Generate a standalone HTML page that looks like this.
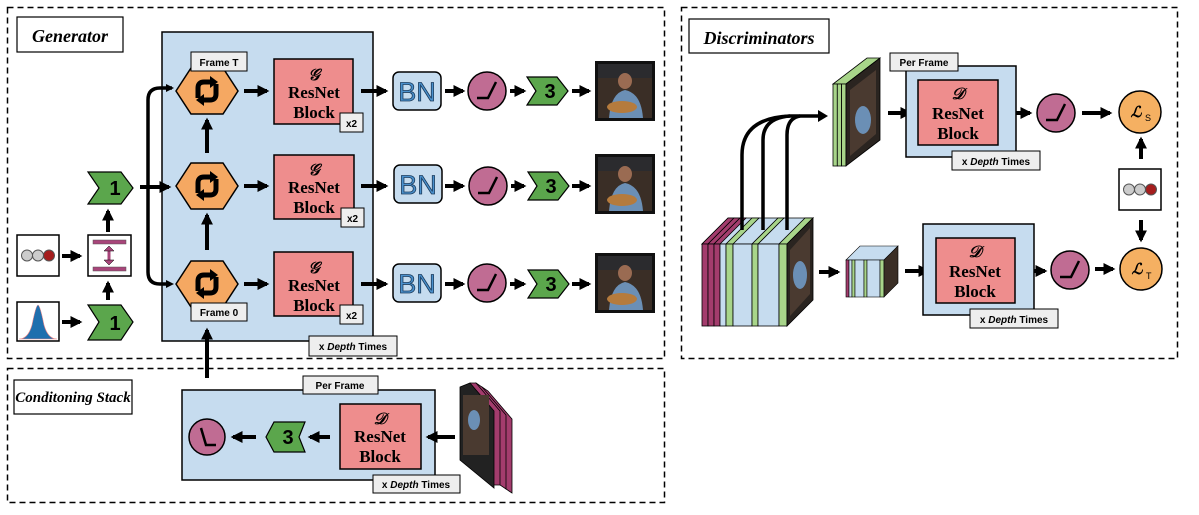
<!DOCTYPE html>
<html><head><meta charset="utf-8"><style>
html,body{margin:0;padding:0;background:#fff;width:1199px;height:515px;overflow:hidden}
svg{display:block}
text{font-family:"Liberation Sans",sans-serif}
.t{font-size:10px;font-weight:bold}
.rb{font-family:"Liberation Serif",serif;font-weight:bold;font-size:17px}
.cal{font-family:"Liberation Serif",serif;font-style:italic;font-weight:bold;font-size:16px}
.ttl{font-family:"Liberation Serif",serif;font-style:italic;font-weight:bold;font-size:18px}
</style></head><body>
<svg width="1199" height="515" viewBox="0 0 1199 515" xmlns="http://www.w3.org/2000/svg">
<defs>
<marker id="ah" viewBox="0 0 10 10" refX="8" refY="5" markerWidth="3" markerHeight="3" orient="auto"><path d="M0,0 L10,5 L0,10 z" fill="#000"/></marker>
<g id="photo">
<rect x="0" y="0" width="60" height="60" fill="#111"/>
<rect x="3" y="3" width="54" height="54" fill="#3a2e26"/>
<rect x="3" y="3" width="54" height="14" fill="#2b2b2e"/>
<ellipse cx="30" cy="20" rx="7" ry="8" fill="#9a6b52"/>
<path d="M14,57 Q16,32 30,29 Q46,32 48,57 z" fill="#6b8fb5"/>
<ellipse cx="27" cy="46" rx="15" ry="6" fill="#b57b3d"/>
</g>
<g id="hex"><polygon points="-31,0 -16,-23 16,-23 31,0 16,23 -16,23" fill="#f5a862" stroke="#000" stroke-width="1.5"/>
<path d="M-9,7 L-9,-3 Q-9,-9 -3,-9 L4,-9" fill="none" stroke="#000" stroke-width="5"/><path d="M3,-15 L11,-9 L3,-3z" fill="#000"/>
<path d="M9,-7 L9,3 Q9,9 3,9 L-4,9" fill="none" stroke="#000" stroke-width="5"/><path d="M-3,15 L-11,9 L-3,3z" fill="#000"/></g>
<g id="relu"><circle cx="0" cy="0" r="19" fill="#c06c93" stroke="#000" stroke-width="1.5"/><path d="M-10,7 L1,7 L9,-9" fill="none" stroke="#000" stroke-width="2.5"/></g>
<g id="dots"><rect x="0" y="0" width="42" height="41" fill="#fff" stroke="#000" stroke-width="1.5"/>
<circle cx="10" cy="20.5" r="5.5" fill="#ccc" stroke="#555"/><circle cx="21" cy="20.5" r="5.5" fill="#ccc" stroke="#555"/><circle cx="32" cy="20.5" r="5.5" fill="#a51d1d" stroke="#555"/></g>
</defs>

<rect x="7.5" y="7.5" width="657" height="351" fill="none" stroke="#000" stroke-width="1.5" stroke-dasharray="6,4"/>
<rect x="681.5" y="7.5" width="496" height="351" fill="none" stroke="#000" stroke-width="1.5" stroke-dasharray="6,4"/>
<rect x="7.5" y="368.5" width="657" height="134" fill="none" stroke="#000" stroke-width="1.5" stroke-dasharray="6,4"/>

<rect x="17" y="17" width="106" height="35" fill="#fff" stroke="#000" stroke-width="1.2"/>
<text x="70" y="42" class="ttl" text-anchor="middle">Generator</text>
<rect x="162" y="32" width="211" height="309" fill="#c6dcef" stroke="#000" stroke-width="1.5"/>

<use href="#hex" x="207" y="91"/><use href="#hex" x="207" y="186"/><use href="#hex" x="207" y="284"/>
<rect x="191" y="52" width="56" height="19" fill="#eee" stroke="#000"/><text x="219" y="66" class="t" text-anchor="middle">Frame T</text>
<rect x="191" y="303" width="56" height="18" fill="#eee" stroke="#000"/><text x="219" y="316" class="t" text-anchor="middle">Frame 0</text>
<g stroke="#000" stroke-width="4" marker-end="url(#ah)">
<line x1="207" y1="153" x2="207" y2="120"/><line x1="207" y1="250" x2="207" y2="215"/>
<line x1="207" y1="378" x2="207" y2="330"/>
<line x1="244" y1="91" x2="267" y2="91"/><line x1="244" y1="186" x2="267" y2="186"/><line x1="244" y1="284" x2="267" y2="284"/>
<line x1="361" y1="91" x2="386" y2="91"/><line x1="361" y1="186" x2="386" y2="186"/><line x1="361" y1="284" x2="386" y2="284"/>
<line x1="445" y1="91" x2="463" y2="91"/><line x1="445" y1="186" x2="463" y2="186"/><line x1="445" y1="284" x2="463" y2="284"/>
<line x1="510" y1="91" x2="524" y2="91"/><line x1="511" y1="186" x2="524" y2="186"/><line x1="510" y1="284" x2="524" y2="284"/>
<line x1="572" y1="91" x2="589" y2="91"/><line x1="572" y1="186" x2="589" y2="186"/><line x1="572" y1="284" x2="589" y2="284"/>
<line x1="62" y1="256" x2="80" y2="256"/><line x1="62" y1="322" x2="80" y2="322"/>
<line x1="108" y1="300" x2="108" y2="283"/><line x1="108" y1="232" x2="108" y2="211"/>
<line x1="140" y1="187" x2="169" y2="187"/>
</g>
<path d="M140,187 L148,187" stroke="#000" stroke-width="4"/>
<path d="M172,88 L160,88 Q148,88 148,100 L148,272 Q148,284 160,284 L170,284" fill="none" stroke="#000" stroke-width="3.5"/>
<path d="M166,84 L174,88 L166,92z M166,280 L174,284 L166,288z" fill="#000"/>

<g>
<rect x="274" y="59" width="79" height="65" fill="#ee8d8d" stroke="#000" stroke-width="1.5"/>
<rect x="274" y="155" width="80" height="64" fill="#ee8d8d" stroke="#000" stroke-width="1.5"/>
<rect x="274" y="252" width="79" height="64" fill="#ee8d8d" stroke="#000" stroke-width="1.5"/>
<text x="314" y="80" class="cal" text-anchor="middle">𝒢</text><text x="314" y="98" class="rb" text-anchor="middle">ResNet</text><text x="314" y="118" class="rb" text-anchor="middle">Block</text>
<text x="314" y="175" class="cal" text-anchor="middle">𝒢</text><text x="314" y="193" class="rb" text-anchor="middle">ResNet</text><text x="314" y="213" class="rb" text-anchor="middle">Block</text>
<text x="314" y="273" class="cal" text-anchor="middle">𝒢</text><text x="314" y="291" class="rb" text-anchor="middle">ResNet</text><text x="314" y="311" class="rb" text-anchor="middle">Block</text>
<rect x="340" y="113" width="23" height="19" fill="#eee" stroke="#000"/><text x="351.5" y="127" class="t" text-anchor="middle">x2</text>
<rect x="341" y="208" width="23" height="19" fill="#eee" stroke="#000"/><text x="352.5" y="222" class="t" text-anchor="middle">x2</text>
<rect x="340" y="305" width="23" height="19" fill="#eee" stroke="#000"/><text x="351.5" y="319" class="t" text-anchor="middle">x2</text>
</g>
<rect x="309" y="336" width="88" height="20" fill="#eee" stroke="#000"/><text x="353" y="350" class="t" text-anchor="middle">x <tspan font-style="italic">Depth</tspan> Times</text>

<g fill="#c6dcef" stroke="#000" stroke-width="1.5">
<rect x="393" y="72" width="48" height="38" rx="6"/><rect x="394" y="165" width="48" height="38" rx="6"/><rect x="393" y="264" width="48" height="38" rx="6"/>
</g>
<g font-size="27" fill="#4a90cc" stroke="#1a3a5a" stroke-width="0.8" text-anchor="middle">
<text x="417" y="101">BN</text><text x="418" y="194">BN</text><text x="417" y="293">BN</text></g>
<use href="#relu" x="487" y="91"/><use href="#relu" x="488" y="186"/><use href="#relu" x="487" y="283"/>
<g fill="#5ba64c" stroke="#000" stroke-width="1.2">
<polygon points="527,77 557,77 568,91 557,105 527,105 536,91"/>
<polygon points="528,172 558,172 569,186 558,200 528,200 537,186"/>
<polygon points="528,270 558,270 569,284 558,298 528,298 537,284"/>
<polygon points="88,172 121,172 133,188 121,204 88,204 99,188"/>
<polygon points="88,305 121,305 133,322 121,340 88,340 99,322"/>
</g>
<g font-size="20" font-weight="bold" text-anchor="middle">
<text x="550" y="98">3</text><text x="551" y="193">3</text><text x="551" y="291">3</text>
<text x="115" y="195">1</text><text x="115" y="330">1</text></g>
<use href="#photo" x="595" y="61"/><use href="#photo" x="595" y="154"/><use href="#photo" x="595" y="253"/>

<use href="#dots" x="17" y="235"/>
<rect x="88" y="235" width="43" height="41" fill="#fff" stroke="#000" stroke-width="1.5"/>
<rect x="93" y="240" width="33" height="4" fill="#a8457a" stroke="#555" stroke-width="0.5"/>
<rect x="93" y="267" width="33" height="4" fill="#a8457a" stroke="#555" stroke-width="0.5"/>
<path d="M109,248 L109,263" stroke="#a8457a" stroke-width="3"/><path d="M104,251 L109,246 L114,251z M104,260 L109,265 L114,260z" fill="#a8457a" stroke="#000" stroke-width="0.5"/>
<rect x="17" y="302" width="42" height="39" fill="#fff" stroke="#000" stroke-width="1.5"/>
<path d="M19,339 Q28,339 32,325 Q36,305 38,305 Q40,305 44,325 Q48,339 57,339 z" fill="#1f6fae" stroke="#e88" stroke-width="0.6"/>

<rect x="14" y="380" width="118" height="34" fill="#fff" stroke="#000" stroke-width="1.2"/>
<text x="73" y="402" class="ttl" text-anchor="middle" style="font-size:15px">Conditoning Stack</text>
<rect x="182" y="390" width="253" height="90" fill="#c6dcef" stroke="#000" stroke-width="1.5"/>
<rect x="303" y="376" width="75" height="18" fill="#eee" stroke="#000"/><text x="340" y="389" class="t" text-anchor="middle">Per Frame</text>
<circle cx="207" cy="437" r="18" fill="#c06c93" stroke="#000" stroke-width="1.5"/><path d="M201,428 L206,445 L216,445" fill="none" stroke="#000" stroke-width="2.5"/>
<polygon points="305,422 274,422 266,437 274,452 305,452 299,437" fill="#5ba64c" stroke="#000" stroke-width="1.2"/>
<text x="288" y="444" font-size="20" font-weight="bold" text-anchor="middle">3</text>
<rect x="340" y="404" width="81" height="65" fill="#ee8d8d" stroke="#000" stroke-width="1.5"/>
<text x="380" y="424" class="cal" text-anchor="middle">𝒟</text><text x="380" y="442" class="rb" text-anchor="middle">ResNet</text><text x="380" y="462" class="rb" text-anchor="middle">Block</text>
<rect x="373" y="475" width="87" height="18" fill="#eee" stroke="#000"/><text x="416" y="488" class="t" text-anchor="middle">x <tspan font-style="italic">Depth</tspan> Times</text>
<g stroke="#000" stroke-width="4" marker-end="url(#ah)">
<line x1="256" y1="437" x2="233" y2="437"/><line x1="330" y1="437" x2="310" y2="437"/><line x1="455" y1="437" x2="428" y2="437"/>
</g>
<g stroke="#000" stroke-width="0.8">
<polygon points="482,387 488,391 512,419 512,493 506,489 482,461" fill="#a33c6d"/>
<polygon points="476,383 482,387 506,415 506,489 500,485 476,457" fill="#a33c6d"/>
<polygon points="470,383 476,383 500,411 500,485 494,485 470,457" fill="#a33c6d"/>
<polygon points="460,387 470,383 494,411 494,488 460,460" fill="#222"/>
</g>
<rect x="463" y="395" width="26" height="60" fill="#4a3a30"/><ellipse cx="474" cy="420" rx="6" ry="10" fill="#6b8fb5"/>

<rect x="689" y="19" width="140" height="34" fill="#fff" stroke="#000" stroke-width="1.2"/>
<text x="759" y="44" class="ttl" text-anchor="middle">Discriminators</text>

<g stroke="#000" stroke-width="0.8">
<polygon points="833,84 846,84 880,58 867,58" fill="#a8d58a"/>
<rect x="833" y="84" width="4.3" height="82" fill="#a8d58a"/><rect x="837.3" y="84" width="4.3" height="82" fill="#a8d58a"/><rect x="841.6" y="84" width="4.4" height="82" fill="#a8d58a"/>
<polygon points="846,84 880,58 880,140 846,166" fill="#2a2420"/>
</g>
<polygon points="850,90 876,70 876,134 850,156" fill="#4a3a30"/><ellipse cx="863" cy="120" rx="8" ry="14" fill="#6b8fb5"/>

<g stroke="#000" stroke-width="0.8">
<polygon points="702,244 787,244 813,218 728,218" fill="#c6dcef"/>
<polygon points="702,244 708,244 734,218 728,218" fill="#a33c6d"/><polygon points="708,244 714,244 740,218 734,218" fill="#a33c6d"/><polygon points="714,244 720,244 746,218 740,218" fill="#a33c6d"/>
<polygon points="726,244 733,244 759,218 752,218" fill="#a8d58a"/><polygon points="752,244 758,244 784,218 778,218" fill="#a8d58a"/><polygon points="779,244 787,244 813,218 805,218" fill="#a8d58a"/>
<rect x="702" y="244" width="6" height="82" fill="#a33c6d"/><rect x="708" y="244" width="6" height="82" fill="#a33c6d"/><rect x="714" y="244" width="6" height="82" fill="#a33c6d"/>
<rect x="720" y="244" width="6" height="82" fill="#c6dcef"/><rect x="726" y="244" width="7" height="82" fill="#a8d58a"/>
<rect x="733" y="244" width="19" height="82" fill="#c6dcef"/><rect x="752" y="244" width="6" height="82" fill="#a8d58a"/>
<rect x="758" y="244" width="21" height="82" fill="#c6dcef"/><rect x="779" y="244" width="8" height="82" fill="#a8d58a"/>
<polygon points="787,244 813,218 813,300 787,326" fill="#2a2420"/>
</g>
<polygon points="790,250 810,228 810,294 790,316" fill="#4a3a30"/><ellipse cx="800" cy="275" rx="7" ry="14" fill="#6b8fb5"/>

<g fill="none" stroke="#000" stroke-width="3.5">
<path d="M742,230 L742,155 Q742,118 790,116 L822,116"/>
<path d="M763,230 L763,140 Q763,118 790,116"/>
<path d="M787,230 L787,135 Q787,118 800,116"/>
</g>
<path d="M818,110 L828,116 L818,122z" fill="#000"/>

<g stroke="#000" stroke-width="0.6">
<polygon points="846,260 884,260 898,246 860,246" fill="#c6dcef"/>
<rect x="846" y="260" width="3" height="37" fill="#a33c6d"/><rect x="849" y="260" width="3" height="37" fill="#c6dcef"/><rect x="852" y="260" width="3" height="37" fill="#a8d58a"/>
<rect x="855" y="260" width="9" height="37" fill="#c6dcef"/><rect x="864" y="260" width="3" height="37" fill="#a8d58a"/>
<rect x="867" y="260" width="13" height="37" fill="#c6dcef"/><rect x="880" y="260" width="4" height="37" fill="#a8d58a"/>
<polygon points="884,260 898,246 898,283 884,297" fill="#3a2e26"/>
</g>

<g stroke="#000" stroke-width="4" marker-end="url(#ah)">
<line x1="888" y1="113" x2="910" y2="113"/>
<line x1="1006" y1="113" x2="1030" y2="113"/>
<line x1="1082" y1="113" x2="1110" y2="113"/>
<line x1="1141" y1="159" x2="1141" y2="139"/>
<line x1="1141" y1="220" x2="1141" y2="240"/>
<line x1="819" y1="272" x2="838" y2="272"/>
<line x1="905" y1="271" x2="928" y2="271"/>
<line x1="1023" y1="271" x2="1045" y2="271"/>
<line x1="1095" y1="269" x2="1113" y2="269"/>
</g>

<rect x="906" y="66" width="110" height="91" fill="#c6dcef" stroke="#000" stroke-width="1.5"/>
<rect x="918" y="80" width="80" height="65" fill="#ee8d8d" stroke="#000" stroke-width="1.5"/>
<text x="958" y="99" class="cal" text-anchor="middle">𝒟</text><text x="958" y="119" class="rb" text-anchor="middle">ResNet</text><text x="958" y="139" class="rb" text-anchor="middle">Block</text>
<rect x="890" y="53" width="68" height="18" fill="#eee" stroke="#000"/><text x="924" y="66" class="t" text-anchor="middle">Per Frame</text>
<rect x="952" y="151" width="88" height="19" fill="#eee" stroke="#000"/><text x="996" y="165" class="t" text-anchor="middle">x <tspan font-style="italic">Depth</tspan> Times</text>

<rect x="923" y="224" width="111" height="91" fill="#c6dcef" stroke="#000" stroke-width="1.5"/>
<rect x="936" y="238" width="79" height="65" fill="#ee8d8d" stroke="#000" stroke-width="1.5"/>
<text x="975" y="257" class="cal" text-anchor="middle">𝒟</text><text x="975" y="277" class="rb" text-anchor="middle">ResNet</text><text x="975" y="297" class="rb" text-anchor="middle">Block</text>
<rect x="970" y="309" width="88" height="19" fill="#eee" stroke="#000"/><text x="1014" y="323" class="t" text-anchor="middle">x <tspan font-style="italic">Depth</tspan> Times</text>

<use href="#relu" x="1056" y="113"/><use href="#relu" x="1070" y="270"/>
<circle cx="1140" cy="112" r="21" fill="#f5b062" stroke="#000" stroke-width="1.5"/>
<text x="1136" y="117" font-family="Liberation Serif" font-style="italic" font-weight="bold" font-size="15" text-anchor="middle">ℒ</text><text x="1145" y="121" font-size="9">S</text>
<circle cx="1141" cy="269" r="21" fill="#f5b062" stroke="#000" stroke-width="1.5"/>
<text x="1137" y="274" font-family="Liberation Serif" font-style="italic" font-weight="bold" font-size="15" text-anchor="middle">ℒ</text><text x="1146" y="279" font-size="9">T</text>
<use href="#dots" x="1119" y="169"/>
</svg>
</body></html>
